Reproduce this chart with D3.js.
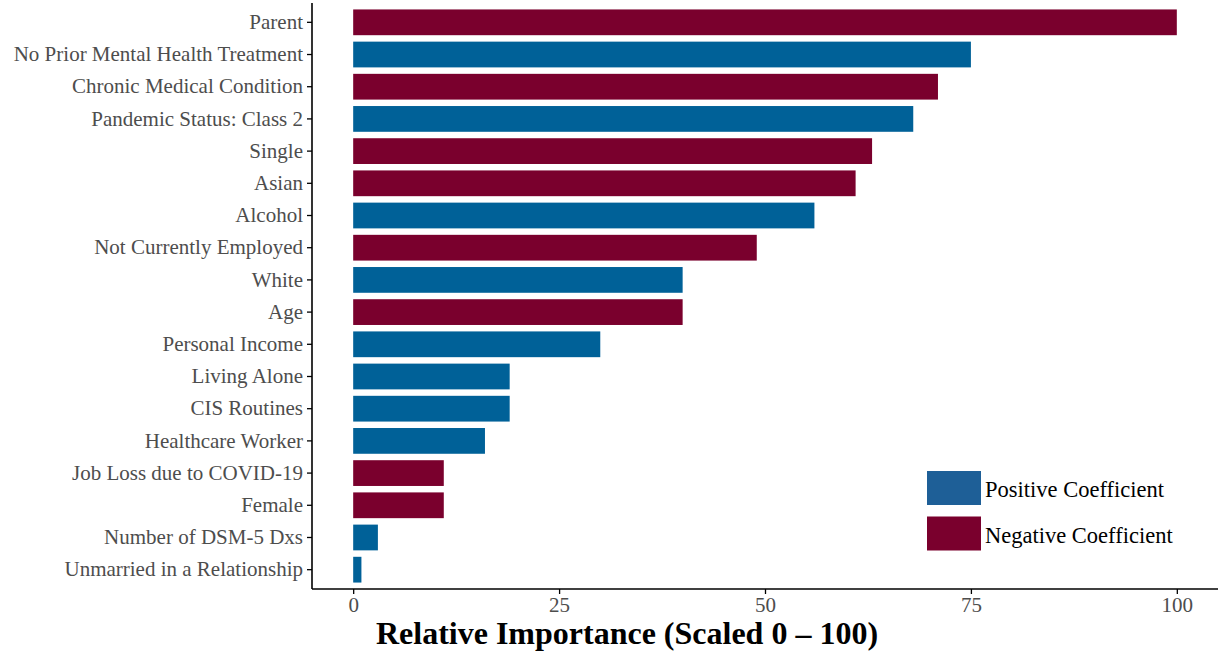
<!DOCTYPE html>
<html>
<head>
<meta charset="utf-8">
<script src="https://cdn.jsdelivr.net/npm/d3@7"></script>
<style>
  body { margin: 0; background: #fff; }
  svg { display: block; font-family: "Liberation Serif", "Times New Roman", serif; }
</style>
</head>
<body>
<svg id="drawing_region"></svg>
<script>
const categories = [
    "Parent", "No Prior Mental Health Treatment", "Chronic Medical Condition",
    "Pandemic Status: Class 2", "Single", "Asian", "Alcohol", "Not Currently Employed",
    "White", "Age", "Personal Income", "Living Alone", "CIS Routines",
    "Healthcare Worker", "Job Loss due to COVID-19", "Female",
    "Number of DSM-5 Dxs", "Unmarried in a Relationship"
];
const importance = [100, 75, 71, 68, 63, 61, 56, 49, 40, 40, 30, 19, 19, 16, 11, 11, 3, 1];
const direction = ["Negative", "Positive", "Negative", "Positive", "Negative", "Negative",
    "Positive", "Negative", "Positive", "Negative", "Positive", "Positive", "Positive",
    "Positive", "Negative", "Negative", "Positive", "Positive"];
const xTicks = [0, 25, 50, 75, 100];
const legendLabels = ["Positive Coefficient", "Negative Coefficient"];

const data = categories.map((c, i) => ({ name: c, value: importance[i], dir: direction[i] }));

const config = {
    width: 1220,
    height: 654,
    margin: { top: 3, right: 2, bottom: 65, left: 312 }
};

const barColor = { Positive: "#006198", Negative: "#7a002d" };
const legendColor = { Positive: "#1e5f97", Negative: "#7a002d" };

const svg = d3.select("#drawing_region")
    .attr("width", config.width)
    .attr("height", config.height);

const inner_width = config.width - config.margin.left - config.margin.right;
const inner_height = config.height - config.margin.top - config.margin.bottom;

const chart = svg.append("g")
    .attr("transform", `translate(${config.margin.left},${config.margin.top})`);

const xscale = d3.scaleLinear().domain([-5, 105]).range([0, inner_width]);
const yscale = d3.scaleBand().domain(categories).range([0, inner_height])
    .paddingInner(0.2).paddingOuter(0.2);

chart.selectAll("rect.bar")
    .data(data)
    .enter()
    .append("rect")
    .attr("class", "bar")
    .attr("x", xscale(0))
    .attr("y", d => yscale(d.name))
    .attr("width", d => xscale(d.value) - xscale(0))
    .attr("height", yscale.bandwidth())
    .attr("fill", d => barColor[d.dir]);

const xaxis = d3.axisBottom(xscale).tickValues(xTicks).tickSize(5).tickPadding(3);
const yaxis = d3.axisLeft(yscale).tickSize(5).tickPadding(4);

const xg = chart.append("g")
    .attr("transform", `translate(0,${inner_height})`)
    .call(xaxis);
const yg = chart.append("g").call(yaxis);

[xg, yg].forEach(g => {
    g.select(".domain").attr("stroke", "#000").attr("stroke-width", 1.6);
    g.selectAll(".tick line").attr("stroke", "#000").attr("stroke-width", 1.3);
    g.selectAll(".tick text")
        .attr("fill", "#4d4d4d")
        .style("font-family", "'Liberation Serif', serif")
        .style("font-size", "21px");
});
xg.select(".domain").attr("d", `M0,0H${inner_width}`);
yg.select(".domain").attr("d", `M0,0V${inner_height}`);

svg.append("text")
    .attr("x", 627)
    .attr("y", 644)
    .attr("text-anchor", "middle")
    .style("font-size", "32px")
    .style("font-weight", "bold")
    .attr("fill", "#000")
    .text("Relative Importance (Scaled 0 \u2013 100)");

const legend = svg.append("g").attr("transform", "translate(927,471)");
["Positive", "Negative"].forEach((k, i) => {
    const g = legend.append("g").attr("transform", `translate(0,${i * 45.5})`);
    g.append("rect")
        .attr("width", 54)
        .attr("height", 34)
        .attr("fill", legendColor[k]);
    g.append("text")
        .attr("x", 58)
        .attr("y", 26)
        .style("font-size", "22.5px")
        .attr("fill", "#000")
        .text(legendLabels[i]);
});
</script>
</body>
</html>
